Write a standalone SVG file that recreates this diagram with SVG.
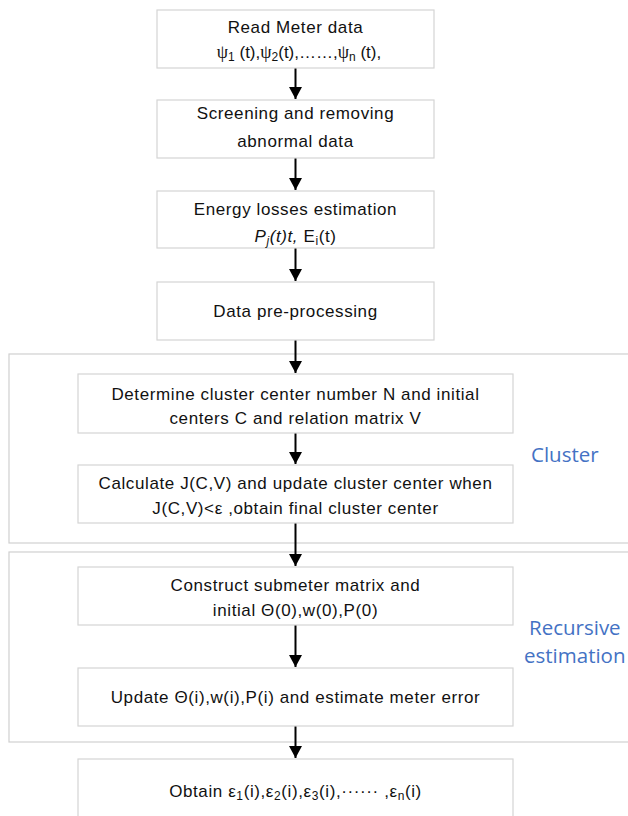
<svg xmlns="http://www.w3.org/2000/svg" width="628" height="816" viewBox="0 0 628 816">
<style>
.box{fill:#fff;stroke:#d4d4d4;stroke-width:1.2}
.cont{fill:none;stroke:#d0d0d0;stroke-width:1.2}
.t{font-family:"Liberation Sans",Arial,sans-serif;font-size:17px;letter-spacing:0.6px;fill:#111;text-anchor:middle}
.t.tight{letter-spacing:0}
.lbl{font-family:"Open Sans","Liberation Sans",sans-serif;font-size:20.5px;fill:#4472c4}
.sub{font-size:12px}
.psi{font-family:"Liberation Serif",serif;font-size:18px}
.conn{stroke:#000;stroke-width:2;fill:none;marker-end:url(#ah)}
</style>
<defs>
<marker id="ah" viewBox="0 0 12 13" refX="12" refY="6.5" markerWidth="12" markerHeight="13" markerUnits="userSpaceOnUse" orient="auto">
<path d="M0,0 L12,6.5 L0,13 z" fill="#000"/>
</marker>
</defs>
<rect width="628" height="816" fill="#fff"/>
<g id="cluster-group">
<rect class="cont" x="9" y="354" width="630" height="189"/>
<text class="lbl" x="531" y="462">Cluster</text>
</g>
<g id="recursive-group">
<rect class="cont" x="9" y="552" width="630" height="190"/>
<text class="lbl" x="529" y="635">Recursive</text>
<text class="lbl" x="524" y="663">estimation</text>
</g>
<g id="connectors">
<line class="conn" x1="295.5" y1="68" x2="295.5" y2="99"/>
<line class="conn" x1="295.5" y1="158" x2="295.5" y2="190"/>
<line class="conn" x1="295.5" y1="248" x2="295.5" y2="281"/>
<line class="conn" x1="295.5" y1="340" x2="295.5" y2="373"/>
<line class="conn" x1="295.5" y1="433" x2="295.5" y2="464"/>
<line class="conn" x1="295.5" y1="523" x2="295.5" y2="566"/>
<line class="conn" x1="295.5" y1="625" x2="295.5" y2="667"/>
<line class="conn" x1="295.5" y1="726" x2="295.5" y2="758"/>
</g>
<g id="read-meter">
<rect class="box" x="157" y="10" width="277" height="58"/>
<text class="t" x="295.5" y="33">Read Meter data</text>
<text class="t tight" x="299" y="58"><tspan class="psi">ψ</tspan><tspan class="sub" dy="3">1</tspan><tspan dy="-3"> (t),</tspan><tspan class="psi">ψ</tspan><tspan class="sub" dy="3">2</tspan><tspan dy="-3">(t),……,</tspan><tspan class="psi">ψ</tspan><tspan class="sub" dy="3">n</tspan><tspan dy="-3"> (t),</tspan></text>
</g>
<g id="screening">
<rect class="box" x="157" y="100" width="277" height="58"/>
<text class="t" x="295.5" y="119">Screening and removing</text>
<text class="t" x="295.5" y="147">abnormal data</text>
</g>
<g id="energy-losses">
<rect class="box" x="157" y="191" width="277" height="57"/>
<text class="t" x="295.5" y="215">Energy losses estimation</text>
<text class="t" x="295.5" y="242"><tspan font-style="italic">P</tspan><tspan class="sub" font-style="italic" dy="3">j</tspan><tspan font-style="italic" dy="-3">(t)t,</tspan><tspan> E</tspan><tspan class="sub" dy="3">i</tspan><tspan dy="-3">(t)</tspan></text>
</g>
<g id="preprocessing">
<rect class="box" x="157" y="282" width="277" height="58"/>
<text class="t" x="295.5" y="317">Data pre-processing</text>
</g>
<g id="determine">
<rect class="box" x="78" y="374" width="435" height="59"/>
<text class="t" x="295.5" y="400">Determine cluster center number N and  initial</text>
<text class="t" x="295.5" y="424">centers C and relation matrix V</text>
</g>
<g id="calculate">
<rect class="box" x="78" y="465" width="435" height="58"/>
<text class="t" x="295.5" y="489">Calculate J(C,V) and update cluster center when</text>
<text class="t" x="295.5" y="514">J(C,V)&lt;ε ,obtain final cluster center</text>
</g>
<g id="construct">
<rect class="box" x="78" y="567" width="435" height="58"/>
<text class="t" x="295.5" y="591">Construct submeter matrix and</text>
<text class="t" x="295.5" y="616">initial Θ(0),w(0),P(0)</text>
</g>
<g id="update">
<rect class="box" x="78" y="668" width="435" height="58"/>
<text class="t" x="295.5" y="703">Update Θ(i),w(i),P(i) and estimate meter error</text>
</g>
<g id="obtain">
<rect class="box" x="78" y="759" width="435" height="60"/>
<text class="t" x="295.5" y="797">Obtain ε<tspan class="sub" dy="3">1</tspan><tspan dy="-3">(i),ε</tspan><tspan class="sub" dy="3">2</tspan><tspan dy="-3">(i),ε</tspan><tspan class="sub" dy="3">3</tspan><tspan dy="-3">(i),······ ,ε</tspan><tspan class="sub" dy="3">n</tspan><tspan dy="-3">(i)</tspan></text>
</g>
</svg>
